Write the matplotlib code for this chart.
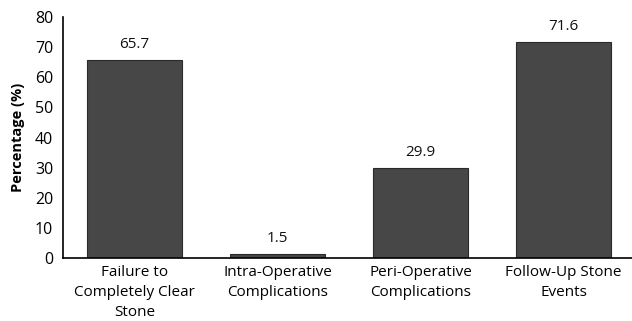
import matplotlib.pyplot as plt

categories = ["Failure to\nCompletely Clear\nStone", "Intra-Operative\nComplications",
              "Peri-Operative\nComplications", "Follow-Up Stone\nEvents"]
values = [65.7, 1.5, 29.9, 71.6]
yticks = [0, 10, 20, 30, 40, 50, 60, 70, 80]

plt.rcParams['font.family'] = ['Open Sans', 'DejaVu Sans']

fig = plt.figure(figsize=(6.32, 3.21), dpi=100)
ax = fig.add_axes([0.0997, 0.196, 0.905, 0.751])

x = range(len(values))
bars = ax.bar(x, values, width=0.66, color='#474747', edgecolor='#2a2a2a', linewidth=0.8)
for xi, v in zip(x, values):
    ax.text(xi, v + 2.6, f"{v:.1f}", ha='center', va='bottom', fontsize=11, color='#111111')

ax.set_xlim(-0.5, 3.5)
ax.set_ylim(0, 80)
ax.set_yticks(yticks)
ax.set_xticks(list(x))
ax.set_xticklabels(categories, fontsize=11, linespacing=1.45)
ax.tick_params(axis='y', length=0, labelsize=11.5, pad=7)
ax.tick_params(axis='x', length=0, pad=5)
ax.set_ylabel("Percentage (%)", fontsize=10.5, fontweight='bold', labelpad=7)

ax.spines['top'].set_visible(False)
ax.spines['right'].set_visible(False)
ax.spines['left'].set_linewidth(1.2)
ax.spines['bottom'].set_linewidth(1.2)

fig.savefig("out.png", dpi=100)
